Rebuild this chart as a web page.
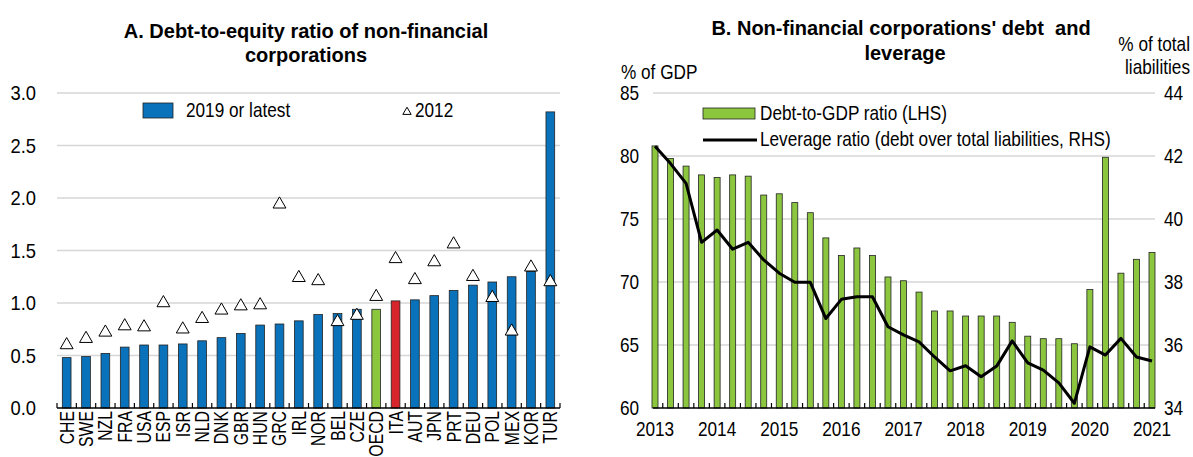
<!DOCTYPE html>
<html>
<head>
<meta charset="utf-8">
<script src="https://cdn.jsdelivr.net/npm/d3@7"></script>
<style>
  body { margin: 0; background: #fff; }
  svg text { font-family: "Liberation Sans", Arial, sans-serif; fill: #000; font-size: 20px; }
</style>
</head>
<body>
<div id="chart"></div>
<script>
const {select, scaleBand, scaleLinear, scalePoint, line, symbol, symbolTriangle, range} = d3;

// Panel A data
const countries = ["CHE", "SWE", "NZL", "FRA", "USA", "ESP", "ISR", "NLD", "DNK", "GBR", "HUN", "GRC", "IRL",
    "NOR", "BEL", "CZE", "OECD", "ITA", "AUT", "JPN", "PRT", "DEU", "POL", "MEX", "KOR", "TUR"];
const latest = [0.48, 0.49, 0.52, 0.58, 0.60, 0.60, 0.61, 0.64, 0.67, 0.71, 0.79, 0.80, 0.83,
    0.89, 0.90, 0.94, 0.94, 1.02, 1.03, 1.07, 1.12, 1.17, 1.20, 1.25, 1.30, 2.82];
const y2012 = [0.60, 0.66, 0.72, 0.78, 0.77, 1.00, 0.75, 0.85, 0.93, 0.97, 0.98, 1.94, 1.24,
    1.21, 0.82, 0.88, 1.06, 1.42, 1.22, 1.39, 1.56, 1.25, 1.05, 0.73, 1.34, 1.20];
const ticksA = [0, 0.5, 1, 1.5, 2, 2.5, 3];

// Panel B data (quarterly, 2013Q1 - 2021Q1)
const quarters = [];
for (let y = 2013; y <= 2021; y++) {
    for (let q = 1; q <= 4; q++) {
        if (y === 2021 && q > 1) break;
        quarters.push(y + "Q" + q);
    }
}
const debtToGdp = [80.8, 79.8, 79.2, 78.5, 78.3, 78.5, 78.4, 76.9, 77.0, 76.3, 75.5, 73.5, 72.1, 72.7, 72.1, 70.4,
    70.1, 69.2, 67.7, 67.7, 67.3, 67.3, 67.3, 66.8, 65.7, 65.5, 65.5, 65.1, 69.4, 79.9, 70.7, 71.8, 72.35];
const leverage = [42.31, 41.76, 41.13, 39.26, 39.65, 39.04, 39.26, 38.70, 38.28, 37.99, 37.99, 36.84, 37.45, 37.53, 37.53, 36.58,
    36.32, 36.10, 35.62, 35.18, 35.34, 34.99, 35.33, 36.13, 35.43, 35.20, 34.80, 34.15, 35.94, 35.68, 36.21, 35.62, 35.49];
const years = ["2013", "2014", "2015", "2016", "2017", "2018", "2019", "2020", "2021"];
const ticksL = [60, 65, 70, 75, 80, 85];
const ticksR = [34, 36, 38, 40, 42, 44];

const W = 1193, H = 457;
const blue = "#0a72ba", green = "#8cc63f", red = "#d7262b", grid = "#d6d6d6";
const SX = 0.86; // the source font is a condensed Arial

const svg = select('#chart').append('svg')
    .attr('width', W)
    .attr('height', H);

// condensed text helper: squeeze along the text direction
const label = (g, x, y, str, anchor = 'start', opts = {}) => {
    const rot = opts.rotate ? ` rotate(${opts.rotate})` : '';
    const sx = opts.sx || SX;
    const t = g.append('text')
        .attr('transform', `translate(${x},${y})${rot} scale(${sx},1)`)
        .attr('text-anchor', anchor)
        .text(str);
    if (opts.dy) t.attr('dy', opts.dy);
    if (opts.bold) t.style('font-weight', 'bold');
    return t;
};

const plotTop = 93, plotBottom = 408;

// ---------- Panel A ----------
const ax = {left: 57, right: 560};
const xA = scaleBand().domain(countries).range([ax.left, ax.right]).paddingInner(0.55).paddingOuter(0.275);
const yA = scaleLinear().domain([0, 3]).range([plotBottom, plotTop]);
const gA = svg.append('g');

label(gA, 306, 38, 'A. Debt-to-equity ratio of non-financial', 'middle', {bold: true, sx: 1});
label(gA, 306, 62, 'corporations', 'middle', {bold: true, sx: 1});

gA.selectAll('.grid').data(ticksA.filter(d => d > 0)).enter().append('line')
    .attr('x1', ax.left).attr('x2', ax.right)
    .attr('y1', d => yA(d)).attr('y2', d => yA(d))
    .attr('stroke', grid).attr('stroke-width', 1.5);

ticksA.forEach(d => label(gA, 36, yA(d), d.toFixed(1), 'end', {dy: '0.35em', sx: 0.92}));

gA.selectAll('.bar').data(countries).enter().append('rect')
    .attr('x', d => xA(d))
    .attr('width', xA.bandwidth())
    .attr('y', (d, i) => yA(latest[i]))
    .attr('height', (d, i) => yA(0) - yA(latest[i]))
    .attr('fill', d => d === 'OECD' ? green : d === 'ITA' ? red : blue)
    .attr('stroke', '#222').attr('stroke-width', 0.8);

// x axis with inward ticks at band boundaries
gA.append('line').attr('x1', ax.left).attr('x2', ax.right)
    .attr('y1', plotBottom).attr('y2', plotBottom).attr('stroke', '#000').attr('stroke-width', 1.5);
const stepA = xA.step();
gA.selectAll('.xtick').data(range(countries.length + 1)).enter().append('line')
    .attr('x1', i => ax.left + i * stepA).attr('x2', i => ax.left + i * stepA)
    .attr('y1', plotBottom).attr('y2', plotBottom - 5)
    .attr('stroke', '#000').attr('stroke-width', 1.2);

countries.forEach(d => label(gA, xA(d) + xA.bandwidth() / 2, plotBottom + 3, d, 'end',
    {rotate: -90, dy: '0.35em', sx: 0.79}));

const tri = symbol().type(symbolTriangle).size(72);
gA.selectAll('.tri').data(countries).enter().append('path')
    .attr('d', tri)
    .attr('transform', (d, i) => `translate(${xA(d) + xA.bandwidth() / 2},${yA(y2012[i])})`)
    .attr('fill', '#fff').attr('stroke', '#000').attr('stroke-width', 1);

// legend A
gA.append('rect').attr('x', 143).attr('y', 103).attr('width', 30).attr('height', 15)
    .attr('fill', blue).attr('stroke', '#222').attr('stroke-width', 0.8);
label(gA, 186, 117, '2019 or latest');
gA.append('path').attr('d', symbol().type(symbolTriangle).size(30))
    .attr('transform', 'translate(407,112)')
    .attr('fill', '#fff').attr('stroke', '#000').attr('stroke-width', 1);
label(gA, 415, 117, '2012');

// ---------- Panel B ----------
const bx = {left: 653, right: 1155};
const xB = scalePoint().domain(quarters).range([655, 1152]);
const yL = scaleLinear().domain([60, 85]).range([plotBottom, plotTop]);
const yR = scaleLinear().domain([34, 44]).range([plotBottom, plotTop]);
const gB = svg.append('g');
const barW = 6;

label(gB, 901, 35, "B. Non-financial corporations' debt\u00a0 and", 'middle', {bold: true, sx: 1});
label(gB, 905, 60, 'leverage', 'middle', {bold: true, sx: 1});
label(gB, 621, 79, '% of GDP');
label(gB, 1190, 51, '% of total', 'end');
label(gB, 1190, 74, 'liabilities', 'end');

gB.selectAll('.grid').data(ticksL.filter(d => d > 60)).enter().append('line')
    .attr('x1', bx.left).attr('x2', bx.right)
    .attr('y1', d => yL(d)).attr('y2', d => yL(d))
    .attr('stroke', grid).attr('stroke-width', 1.5);

ticksL.forEach(d => label(gB, 639, yL(d), d, 'end', {dy: '0.35em'}));
ticksR.forEach(d => label(gB, 1164, yR(d), d, 'start', {dy: '0.35em'}));

gB.selectAll('.bar').data(quarters).enter().append('rect')
    .attr('x', d => xB(d) - barW / 2)
    .attr('width', barW)
    .attr('y', (d, i) => yL(debtToGdp[i]))
    .attr('height', (d, i) => yL(60) - yL(debtToGdp[i]))
    .attr('fill', green).attr('stroke', '#222').attr('stroke-width', 0.8);

gB.append('line').attr('x1', bx.left).attr('x2', bx.right)
    .attr('y1', plotBottom).attr('y2', plotBottom).attr('stroke', '#000').attr('stroke-width', 1.5);
const stepB = xB.step();
gB.selectAll('.xtick').data(quarters.slice(1)).enter().append('line')
    .attr('x1', d => xB(d) - stepB / 2).attr('x2', d => xB(d) - stepB / 2)
    .attr('y1', plotBottom).attr('y2', plotBottom - 5)
    .attr('stroke', '#000').attr('stroke-width', 1.2);

years.forEach(d => label(gB, xB(d + 'Q1'), 436, d, 'middle'));

const levLine = line()
    .x((d, i) => xB(quarters[i]))
    .y(d => yR(d));
gB.append('path').datum(leverage)
    .attr('d', levLine)
    .attr('fill', 'none').attr('stroke', '#000').attr('stroke-width', 3)
    .attr('stroke-linejoin', 'round');

// legend B
gB.append('rect').attr('x', 703).attr('y', 108).attr('width', 52).attr('height', 11)
    .attr('fill', green).attr('stroke', '#222').attr('stroke-width', 0.8);
label(gB, 760, 120, 'Debt-to-GDP ratio (LHS)');
gB.append('line').attr('x1', 703).attr('x2', 757).attr('y1', 140).attr('y2', 140)
    .attr('stroke', '#000').attr('stroke-width', 3);
label(gB, 760, 146, 'Leverage ratio (debt over total liabilities, RHS)');
</script>
</body>
</html>
